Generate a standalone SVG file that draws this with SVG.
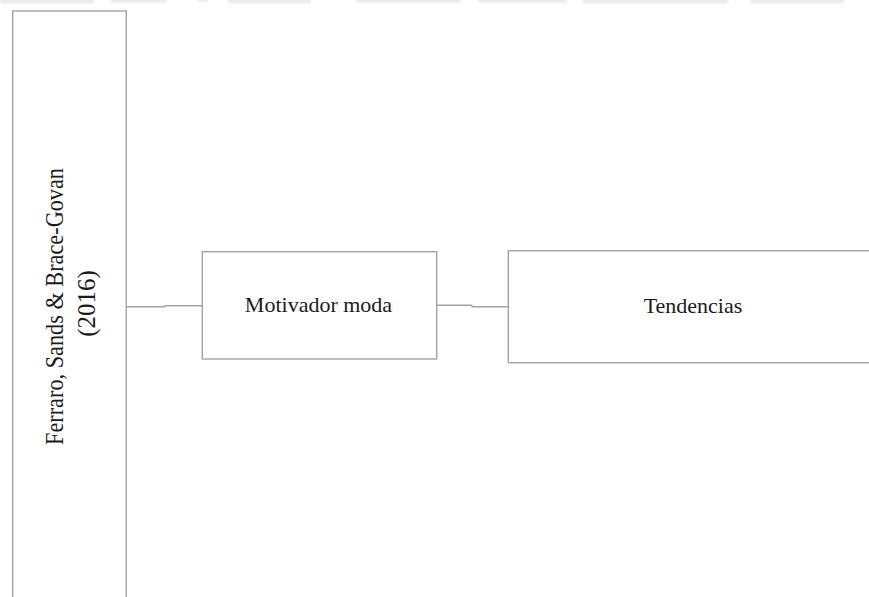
<svg xmlns="http://www.w3.org/2000/svg" width="869" height="597" viewBox="0 0 869 597">
  <defs>
    <style>
      .box { fill: #ffffff; stroke: #a3a3a3; stroke-width: 1.4; }
      .conn { fill: none; stroke: #a3a3a3; stroke-width: 1.4; }
      .label { font-family: 'Liberation Serif', 'DejaVu Serif', serif; font-size: 22px; fill: #1a1a1a; text-anchor: middle; }
      .vlabel { font-family: 'Liberation Serif', 'DejaVu Serif', serif; font-size: 25px; fill: #1a1a1a; text-anchor: middle; }
    </style>
    <filter id="soft" x="-10%" y="-300%" width="120%" height="700%">
      <feGaussianBlur stdDeviation="1.2"/>
    </filter>
  </defs>

  <rect width="869" height="597" fill="#ffffff"/>

  <!-- faint band along the top edge -->
  <g fill="#ececec" filter="url(#soft)">
    <rect x="0" y="-3" width="94" height="6.5"/>
    <rect x="111" y="-3" width="56" height="6" rx="2"/>
    <rect x="197" y="-3" width="11" height="5"/>
    <rect x="228" y="-3" width="83" height="6.5"/>
    <rect x="356" y="-3" width="105" height="6"/>
    <rect x="478" y="-3" width="89" height="6"/>
    <rect x="583" y="-3" width="145" height="6.5"/>
    <rect x="750" y="-3" width="94" height="6.5"/>
  </g>

  <!-- connectors -->
  <g id="connectors">
    <polyline class="conn" points="126.3,306.7 164.5,306.7 165,305.7 202.3,305.7"/>
    <polyline class="conn" points="436.7,305.3 471.7,305.3 472.2,306.7 508.3,306.7"/>
  </g>

  <!-- source column -->
  <g id="node-source">
    <rect class="box" x="12.7" y="11" width="113.6" height="600"/>
    <text class="vlabel" font-family="Liberation Serif, serif" transform="translate(63,306.5) rotate(-90)" textLength="277" lengthAdjust="spacingAndGlyphs">Ferraro, Sands &amp; Brace-Govan</text>
    <text class="vlabel" font-family="Liberation Serif, serif" transform="translate(95,303.5) rotate(-90)">(2016)</text>
  </g>

  <!-- Motivador moda -->
  <g id="node-motivador">
    <rect class="box" x="202.3" y="251.7" width="234.4" height="107.3"/>
    <text class="label" x="318.5" y="311.7">Motivador moda</text>
  </g>

  <!-- Tendencias -->
  <g id="node-tendencias">
    <rect class="box" x="508.3" y="250.7" width="380" height="112"/>
    <text class="label" x="693" y="312.7">Tendencias</text>
  </g>
</svg>
